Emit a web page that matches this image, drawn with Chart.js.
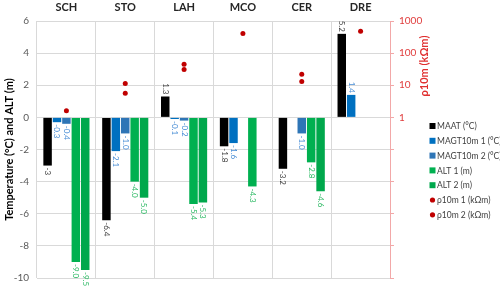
<!DOCTYPE html>
<html>
<head>
<meta charset="utf-8">
<script src="https://cdn.jsdelivr.net/npm/chart.js@4.4.1/dist/chart.umd.min.js"></script>
<style>
  body { margin: 0; background: #fff; }
  canvas { display: block; }
</style>
</head>
<body>
<canvas id="chart" width="500" height="292"></canvas>
<script>
const sites = ['SCH', 'STO', 'LAH', 'MCO', 'CER', 'DRE'];
const maat = [-3, -6.4, 1.3, -1.8, -3.2, 5.2];
const magt1 = [-0.3, -2.1, -0.1, -1.6, null, 1.4];
const magt2 = [-0.4, -1.0, -0.2, null, -1.0, null];
const alt1 = [-9.0, -4.0, -5.4, -4.3, -2.8, null];
const alt2 = [-9.5, -5.0, -5.3, null, -4.6, null];
const rho1 = [1.6, 11.3, 45, 410, 22, 480];
const rho2 = [null, 5.6, 31, null, 13, null];
const rhoTicks = [1e-5, 1e-4, 1e-3, 0.01, 0.1, 1, 10, 100, 1000];

const FONT = 'Lato, sans-serif';

// bar value labels, rotated like the excel ones
const barLabels = {
  id: 'barLabels',
  afterDatasetsDraw(chart) {
    const ctx = chart.ctx;
    chart.data.datasets.forEach((ds, i) => {
      if (ds.type === 'line') return;
      const meta = chart.getDatasetMeta(i);
      meta.data.forEach((bar, j) => {
        const v = ds.data[j];
        if (v === null) return;
        const txt = ds.whole ? String(v) : v.toFixed(1);
        ctx.save();
        ctx.font = '8px ' + FONT;
        ctx.fillStyle = ds.labelColor;
        ctx.textBaseline = 'middle';
        if (v < 0) {
          ctx.translate(bar.x, bar.y + 2);
          ctx.textAlign = 'left';
        } else {
          ctx.translate(bar.x, bar.y - 2);
          ctx.textAlign = 'right';
        }
        ctx.rotate(Math.PI / 2);
        ctx.fillText(txt, 0, 0);
        ctx.restore();
      });
    });
  }
};

// legend + right axis title drawn by hand so they sit where excel put them
const sideBits = {
  id: 'sideBits',
  afterDraw(chart) {
    const ctx = chart.ctx;
    ctx.save();
    ctx.font = '8.5px ' + FONT;
    ctx.textBaseline = 'middle';
    ctx.textAlign = 'left';
    let y = 126;
    chart.data.datasets.forEach(ds => {
      ctx.fillStyle = ds.backgroundColor;
      if (ds.type === 'line') {
        ctx.beginPath();
        ctx.arc(432.5, y, 2.6, 0, Math.PI * 2);
        ctx.fill();
      } else {
        ctx.fillRect(429.5, y - 3, 6, 6);
      }
      ctx.fillStyle = '#404040';
      ctx.fillText(ds.label, 437, y + 0.5);
      y += 14.8;
    });
    ctx.translate(424, 66);
    ctx.rotate(-Math.PI / 2);
    ctx.textAlign = 'center';
    ctx.fillStyle = '#E03030';
    ctx.font = 'bold 11px ' + FONT;
    ctx.fillText('ρ10m (kΩm)', 0, 0);
    ctx.restore();
  }
};

const config = {
  type: 'bar',
  data: {
    labels: sites,
    datasets: [
      { label: 'MAAT (°C)', data: maat, backgroundColor: '#000000', labelColor: '#404040', whole: true },
      { label: 'MAGT10m 1 (°C)', data: magt1, backgroundColor: '#0070C0', labelColor: '#4A8FD6' },
      { label: 'MAGT10m 2 (°C)', data: magt2, backgroundColor: '#2E75B6', labelColor: '#4A8FD6' },
      { label: 'ALT 1 (m)', data: alt1, backgroundColor: '#00B050', labelColor: '#2FBA66' },
      { label: 'ALT 2 (m)', data: alt2, backgroundColor: '#00A84C', labelColor: '#2FBA66' },
      { type: 'line', label: 'ρ10m 1 (kΩm)', data: rho1, yAxisID: 'y2', showLine: false,
        backgroundColor: '#C00000', borderColor: '#C00000', pointRadius: 2.5, borderWidth: 0, order: -1 },
      { type: 'line', label: 'ρ10m 2 (kΩm)', data: rho2, yAxisID: 'y2', showLine: false,
        backgroundColor: '#C00000', borderColor: '#C00000', pointRadius: 2.5, borderWidth: 0, order: -1 }
    ]
  },
  options: {
    responsive: false,
    animation: false,
    layout: { padding: { bottom: 10 } },
    datasets: { bar: { categoryPercentage: 0.8, barPercentage: 0.9 } },
    plugins: { legend: { display: false }, tooltip: { enabled: false } },
    scales: {
      x: {
        position: 'top',
        grid: { color: '#D9D9D9', drawTicks: false },
        border: { display: false },
        ticks: { color: '#262626', font: { family: FONT, size: 11, weight: 'bold' }, padding: 7 },
        afterFit: s => { s.height = 21; }
      },
      y: {
        position: 'left',
        min: -10,
        max: 6,
        ticks: { stepSize: 2, color: '#595959', font: { family: FONT, size: 10 }, padding: 8 },
        grid: { color: '#D9D9D9', drawTicks: false },
        border: { display: false },
        title: {
          display: true,
          text: 'Temperature (°C) and ALT (m)',
          color: '#000000',
          font: { family: FONT, size: 11, weight: 'bold' },
          padding: { top: 3, bottom: 0 }
        },
        afterFit: s => { s.width = 37; }
      },
      y2: {
        type: 'logarithmic',
        position: 'right',
        min: 1e-5,
        max: 1000,
        afterBuildTicks: s => { s.ticks = rhoTicks.map(v => ({ value: v })); },
        ticks: {
          color: '#E03C3C',
          font: { family: FONT, size: 10 },
          padding: 5,
          callback: v => (v >= 1 ? String(v) : '')
        },
        grid: { drawOnChartArea: false, color: '#F2A8A8', tickLength: 4 },
        border: { color: '#F2A8A8' },
        afterFit: s => { s.width = 110; }
      }
    }
  },
  plugins: [barLabels, sideBits]
};

new Chart(document.getElementById('chart').getContext('2d'), config);
</script>
</body>
</html>
